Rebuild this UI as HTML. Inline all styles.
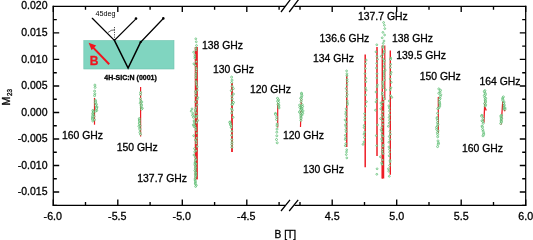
<!DOCTYPE html><html><head><meta charset="utf-8"><title>M23 vs B</title>
<style>html,body{margin:0;padding:0;background:#fff}body{width:533px;height:240px;overflow:hidden}svg{display:block}text{font-family:"Liberation Sans",sans-serif;fill:#000;stroke:#000;stroke-width:0.3px}</style></head><body>
<svg width="533" height="240" viewBox="0 0 533 240">
<rect width="533" height="240" fill="#fff"/>
<g id="inset">
<rect x="83.8" y="40.5" width="90.2" height="28.5" fill="#80d5c0" stroke="#6fc4b0" stroke-width="0.6"/>
<g stroke="#000" fill="none" stroke-linecap="round">
<path d="M92.3 18.3L114.4 40.4L135.2 19.6" stroke-width="1.25"/>
<path d="M114.4 40.4L128.1 68L140.6 42.2" stroke-width="1.5" stroke-linejoin="miter"/>
<path d="M140.6 42.2L162.6 19.2" stroke-width="1.25"/>
<path d="M114.5 27V40" stroke-width="0.7" stroke-dasharray="1.2 1.2" stroke-linecap="butt"/>
<path d="M108.3 32.2Q111 29.6 114.5 29.8" stroke-width="0.6"/>
</g>
<circle cx="136" cy="18.6" r="1.3" fill="#000"/><circle cx="163.3" cy="18.4" r="1.3" fill="#000"/><circle cx="140.6" cy="42.2" r="1.1" fill="#000"/>
<path d="M109.2 64.2L92 46.4" stroke="#f0141e" stroke-width="2" fill="none"/>
<path d="M88.6 42.8L96.2 45.6L91.6 50.2Z" fill="#f0141e"/>
<text x="89.8" y="64.6" font-size="12" font-weight="bold" style="fill:#f0141e;stroke:#f0141e">B</text>
<text x="95.6" y="16.4" font-size="7.2" style="stroke:none">45deg</text>
<text x="104.3" y="79.9" font-size="7" font-weight="bold">4H-SiC:N (0001)</text>
</g>
<g id="fit" stroke="#ee1c25" fill="none" stroke-linecap="butt" stroke-linejoin="round">
<path d="M94.5 98V124.7" stroke-width="1.2"/>
<path d="M140.6 87V136.6" stroke-width="1.2"/>
<path d="M196.3 47V179.4" stroke-width="3.1"/>
<path d="M232 83V152" stroke-width="1.8"/>
<path d="M277.7 103.3V127.6" stroke-width="1.2"/>
<path d="M301.4 98L300.5 127" stroke-width="1.2"/>
<path d="M346.75 75V147" stroke-width="1.4"/>
<path d="M365.2 54.4V167.2" stroke-width="1.5"/>
<path d="M377.0 46.9V156" stroke-width="1.5"/>
<path d="M382.3 45.6V178.5" stroke-width="1.4"/>
<path d="M384.8 45.6V100" stroke-width="1.2"/>
<path d="M383.0 100V178.5" stroke-width="2.5"/>
<path d="M390.3 50.6V174.7" stroke-width="1.4"/>
<path d="M438.3 97V133" stroke-width="1.2"/>
<path d="M484.8 101.5L484.6 106.7L483.9 122.6M484.6 106.5L486.3 110.5" stroke-width="1.3"/>
<path d="M502.8 101.5L502.5 105L501.2 124.5M502.5 104.8L505 111.3" stroke-width="1.3"/>
</g>
<g id="pts" fill="#fff" fill-opacity="0.8" stroke="#38ae52" stroke-width="0.6">
<circle cx="94.9" cy="85.1" r="1.00"/>
<circle cx="95.1" cy="87.4" r="1.00"/>
<circle cx="94.6" cy="91.1" r="1.00"/>
<circle cx="94.8" cy="93.8" r="1.00"/>
<circle cx="94.6" cy="95.7" r="1.00"/>
<circle cx="95.4" cy="100.3" r="1.00"/>
<circle cx="95.6" cy="101.7" r="1.00"/>
<circle cx="95.3" cy="102.8" r="1.00"/>
<circle cx="96.4" cy="104.3" r="1.00"/>
<circle cx="95.6" cy="105.3" r="1.00"/>
<circle cx="97.0" cy="107.0" r="1.00"/>
<circle cx="96.4" cy="107.6" r="1.00"/>
<circle cx="96.5" cy="108.7" r="1.00"/>
<circle cx="96.7" cy="110.5" r="1.00"/>
<circle cx="95.7" cy="111.1" r="1.00"/>
<circle cx="92.9" cy="110.4" r="1.00"/>
<circle cx="93.4" cy="111.5" r="1.00"/>
<circle cx="93.3" cy="112.2" r="1.00"/>
<circle cx="92.7" cy="113.5" r="1.00"/>
<circle cx="93.3" cy="114.4" r="1.00"/>
<circle cx="92.8" cy="115.2" r="1.00"/>
<circle cx="94.0" cy="116.4" r="1.00"/>
<circle cx="92.4" cy="117.0" r="1.00"/>
<circle cx="92.6" cy="118.4" r="1.00"/>
<circle cx="92.5" cy="119.3" r="1.00"/>
<circle cx="94.4" cy="119.8" r="1.00"/>
<circle cx="92.8" cy="121.0" r="1.00"/>
<circle cx="140.6" cy="92.5" r="1.00"/>
<circle cx="140.5" cy="94.5" r="1.00"/>
<circle cx="140.4" cy="98.7" r="1.00"/>
<circle cx="140.7" cy="101.0" r="1.00"/>
<circle cx="141.8" cy="102.0" r="1.00"/>
<circle cx="140.2" cy="103.2" r="1.00"/>
<circle cx="141.5" cy="104.8" r="1.00"/>
<circle cx="141.2" cy="105.6" r="1.00"/>
<circle cx="141.2" cy="107.1" r="1.00"/>
<circle cx="142.3" cy="108.3" r="1.00"/>
<circle cx="141.4" cy="109.2" r="1.00"/>
<circle cx="139.3" cy="118.6" r="1.00"/>
<circle cx="139.3" cy="120.0" r="1.00"/>
<circle cx="139.5" cy="121.0" r="1.00"/>
<circle cx="139.5" cy="122.9" r="1.00"/>
<circle cx="139.4" cy="123.7" r="1.00"/>
<circle cx="140.0" cy="125.7" r="1.00"/>
<circle cx="138.9" cy="126.3" r="1.00"/>
<circle cx="139.8" cy="128.4" r="1.00"/>
<circle cx="139.9" cy="129.6" r="1.00"/>
<circle cx="139.9" cy="132.4" r="1.00"/>
<circle cx="140.5" cy="134.3" r="1.00"/>
<circle cx="195.8" cy="38.8" r="0.90"/>
<circle cx="196.3" cy="41.8" r="0.90"/>
<circle cx="196.5" cy="45.5" r="0.90"/>
<circle cx="195.9" cy="48.2" r="0.90"/>
<circle cx="196.0" cy="50.1" r="0.90"/>
<circle cx="193.6" cy="52.2" r="0.90"/>
<circle cx="194.9" cy="54.9" r="0.90"/>
<circle cx="194.8" cy="56.8" r="0.90"/>
<circle cx="194.9" cy="58.3" r="0.90"/>
<circle cx="196.3" cy="61.7" r="0.90"/>
<circle cx="193.9" cy="63.8" r="0.90"/>
<circle cx="195.5" cy="65.3" r="0.90"/>
<circle cx="196.2" cy="67.8" r="0.90"/>
<circle cx="196.5" cy="69.2" r="0.90"/>
<circle cx="196.2" cy="71.5" r="0.90"/>
<circle cx="195.9" cy="73.9" r="0.90"/>
<circle cx="195.9" cy="75.8" r="0.90"/>
<circle cx="195.8" cy="77.9" r="0.90"/>
<circle cx="196.1" cy="81.3" r="0.90"/>
<circle cx="196.4" cy="83.0" r="0.90"/>
<circle cx="196.5" cy="84.8" r="0.90"/>
<circle cx="197.3" cy="87.0" r="0.90"/>
<circle cx="197.3" cy="90.1" r="0.90"/>
<circle cx="195.5" cy="91.5" r="0.90"/>
<circle cx="195.9" cy="93.1" r="0.90"/>
<circle cx="195.7" cy="95.7" r="0.90"/>
<circle cx="197.8" cy="97.6" r="0.90"/>
<circle cx="197.1" cy="99.5" r="0.90"/>
<circle cx="195.5" cy="101.9" r="0.90"/>
<circle cx="197.1" cy="104.7" r="0.90"/>
<circle cx="196.1" cy="107.5" r="0.90"/>
<circle cx="195.6" cy="109.5" r="0.90"/>
<circle cx="195.2" cy="110.9" r="0.90"/>
<circle cx="196.1" cy="112.8" r="0.90"/>
<circle cx="194.7" cy="115.9" r="0.90"/>
<circle cx="196.2" cy="117.4" r="0.90"/>
<circle cx="197.7" cy="120.5" r="0.90"/>
<circle cx="196.5" cy="122.5" r="0.90"/>
<circle cx="194.2" cy="124.5" r="0.90"/>
<circle cx="195.0" cy="125.9" r="0.90"/>
<circle cx="195.8" cy="127.8" r="0.90"/>
<circle cx="195.8" cy="129.9" r="0.90"/>
<circle cx="196.7" cy="133.1" r="0.90"/>
<circle cx="193.7" cy="135.7" r="0.90"/>
<circle cx="196.7" cy="137.9" r="0.90"/>
<circle cx="195.4" cy="140.0" r="0.90"/>
<circle cx="196.4" cy="141.1" r="0.90"/>
<circle cx="196.3" cy="143.2" r="0.90"/>
<circle cx="197.2" cy="146.5" r="0.90"/>
<circle cx="194.5" cy="148.6" r="0.90"/>
<circle cx="196.1" cy="150.7" r="0.90"/>
<circle cx="194.7" cy="151.8" r="0.90"/>
<circle cx="194.0" cy="155.0" r="0.90"/>
<circle cx="195.3" cy="157.1" r="0.90"/>
<circle cx="196.0" cy="159.4" r="0.90"/>
<circle cx="192.0" cy="108.9" r="0.90"/>
<circle cx="191.2" cy="111.2" r="0.90"/>
<circle cx="192.9" cy="113.4" r="0.90"/>
<circle cx="192.5" cy="115.3" r="0.90"/>
<circle cx="193.4" cy="117.4" r="0.90"/>
<circle cx="194.1" cy="120.7" r="0.90"/>
<circle cx="194.1" cy="121.9" r="0.90"/>
<circle cx="193.2" cy="124.9" r="0.90"/>
<circle cx="194.1" cy="126.7" r="0.90"/>
<circle cx="195.4" cy="160.2" r="0.90"/>
<circle cx="195.1" cy="162.1" r="0.90"/>
<circle cx="195.0" cy="163.2" r="0.90"/>
<circle cx="196.2" cy="163.9" r="0.90"/>
<circle cx="194.8" cy="164.8" r="0.90"/>
<circle cx="195.4" cy="166.0" r="0.90"/>
<circle cx="195.9" cy="167.4" r="0.90"/>
<circle cx="195.2" cy="168.2" r="0.90"/>
<circle cx="195.6" cy="169.9" r="0.90"/>
<circle cx="194.8" cy="170.6" r="0.90"/>
<circle cx="195.7" cy="172.1" r="0.90"/>
<circle cx="196.1" cy="172.9" r="0.90"/>
<circle cx="195.2" cy="174.1" r="0.90"/>
<circle cx="196.1" cy="175.2" r="0.90"/>
<circle cx="195.6" cy="176.1" r="0.90"/>
<circle cx="195.6" cy="177.0" r="0.90"/>
<circle cx="195.2" cy="178.5" r="0.90"/>
<circle cx="195.0" cy="179.9" r="0.90"/>
<circle cx="195.3" cy="180.8" r="0.90"/>
<circle cx="195.6" cy="182.0" r="0.90"/>
<circle cx="195.2" cy="183.1" r="0.90"/>
<circle cx="195.3" cy="184.0" r="0.90"/>
<circle cx="196.4" cy="185.3" r="0.90"/>
<circle cx="195.6" cy="186.5" r="0.90"/>
<circle cx="197.0" cy="115.9" r="0.90"/>
<circle cx="231.6" cy="77.1" r="1.00"/>
<circle cx="232.0" cy="80.1" r="1.00"/>
<circle cx="231.7" cy="82.5" r="1.00"/>
<circle cx="232.1" cy="86.3" r="1.00"/>
<circle cx="233.3" cy="88.6" r="1.00"/>
<circle cx="231.3" cy="90.6" r="1.00"/>
<circle cx="233.4" cy="94.0" r="1.00"/>
<circle cx="231.9" cy="96.0" r="1.00"/>
<circle cx="232.2" cy="98.8" r="1.00"/>
<circle cx="232.5" cy="101.9" r="1.00"/>
<circle cx="231.9" cy="104.4" r="1.00"/>
<circle cx="231.6" cy="108.9" r="1.00"/>
<circle cx="232.3" cy="110.2" r="1.00"/>
<circle cx="231.7" cy="113.0" r="1.00"/>
<circle cx="233.0" cy="117.3" r="1.00"/>
<circle cx="233.5" cy="102.5" r="1.00"/>
<circle cx="232.6" cy="104.3" r="1.00"/>
<circle cx="230.1" cy="121.9" r="1.00"/>
<circle cx="229.8" cy="122.5" r="1.00"/>
<circle cx="230.6" cy="123.8" r="1.00"/>
<circle cx="230.5" cy="124.8" r="1.00"/>
<circle cx="231.3" cy="125.9" r="1.00"/>
<circle cx="231.2" cy="127.5" r="1.00"/>
<circle cx="231.8" cy="131.3" r="1.00"/>
<circle cx="231.6" cy="135.3" r="1.00"/>
<circle cx="231.8" cy="139.5" r="1.00"/>
<circle cx="232.0" cy="142.3" r="1.00"/>
<circle cx="231.8" cy="144.5" r="1.00"/>
<circle cx="231.9" cy="147.3" r="1.00"/>
<circle cx="277.5" cy="98.3" r="1.00"/>
<circle cx="278.6" cy="100.0" r="1.00"/>
<circle cx="277.6" cy="101.2" r="1.00"/>
<circle cx="278.6" cy="102.5" r="1.00"/>
<circle cx="278.0" cy="104.4" r="1.00"/>
<circle cx="278.9" cy="105.2" r="1.00"/>
<circle cx="278.7" cy="106.9" r="1.00"/>
<circle cx="279.0" cy="107.9" r="1.00"/>
<circle cx="275.5" cy="113.4" r="1.00"/>
<circle cx="275.5" cy="114.4" r="1.00"/>
<circle cx="276.7" cy="117.1" r="1.00"/>
<circle cx="276.6" cy="119.5" r="1.00"/>
<circle cx="277.1" cy="124.0" r="1.00"/>
<circle cx="277.0" cy="125.8" r="1.00"/>
<circle cx="277.0" cy="129.1" r="1.00"/>
<circle cx="276.8" cy="132.2" r="1.00"/>
<circle cx="276.8" cy="135.8" r="1.00"/>
<circle cx="276.5" cy="139.5" r="1.00"/>
<circle cx="277.2" cy="142.8" r="1.00"/>
<circle cx="301.5" cy="93.2" r="1.00"/>
<circle cx="301.6" cy="94.1" r="1.00"/>
<circle cx="301.9" cy="95.7" r="1.00"/>
<circle cx="301.4" cy="97.3" r="1.00"/>
<circle cx="300.7" cy="98.3" r="1.00"/>
<circle cx="301.5" cy="99.6" r="1.00"/>
<circle cx="301.1" cy="101.6" r="1.00"/>
<circle cx="302.2" cy="104.6" r="1.00"/>
<circle cx="299.6" cy="105.1" r="1.00"/>
<circle cx="301.5" cy="106.1" r="1.00"/>
<circle cx="302.6" cy="106.5" r="1.00"/>
<circle cx="299.8" cy="107.4" r="1.00"/>
<circle cx="301.3" cy="108.1" r="1.00"/>
<circle cx="302.0" cy="108.7" r="1.00"/>
<circle cx="301.5" cy="109.4" r="1.00"/>
<circle cx="300.6" cy="110.2" r="1.00"/>
<circle cx="303.0" cy="110.9" r="1.00"/>
<circle cx="299.4" cy="112.0" r="1.00"/>
<circle cx="301.7" cy="112.5" r="1.00"/>
<circle cx="302.7" cy="113.4" r="1.00"/>
<circle cx="300.6" cy="113.9" r="1.00"/>
<circle cx="301.9" cy="115.1" r="1.00"/>
<circle cx="300.7" cy="115.9" r="1.00"/>
<circle cx="301.0" cy="117.5" r="1.00"/>
<circle cx="301.0" cy="118.5" r="1.00"/>
<circle cx="300.9" cy="120.4" r="1.00"/>
<circle cx="346.6" cy="70.9" r="0.90"/>
<circle cx="346.9" cy="73.8" r="0.90"/>
<circle cx="346.9" cy="75.7" r="0.90"/>
<circle cx="347.1" cy="79.4" r="0.90"/>
<circle cx="347.3" cy="81.6" r="0.90"/>
<circle cx="347.0" cy="84.9" r="0.90"/>
<circle cx="346.2" cy="88.5" r="0.90"/>
<circle cx="346.8" cy="91.5" r="0.90"/>
<circle cx="347.2" cy="94.5" r="0.90"/>
<circle cx="346.6" cy="96.6" r="0.90"/>
<circle cx="347.3" cy="100.9" r="0.90"/>
<circle cx="347.5" cy="103.1" r="0.90"/>
<circle cx="347.4" cy="104.7" r="0.90"/>
<circle cx="346.1" cy="108.8" r="0.90"/>
<circle cx="345.9" cy="111.8" r="0.90"/>
<circle cx="345.6" cy="114.0" r="0.90"/>
<circle cx="346.2" cy="116.6" r="0.90"/>
<circle cx="345.1" cy="119.9" r="0.90"/>
<circle cx="346.3" cy="122.0" r="0.90"/>
<circle cx="345.4" cy="124.9" r="0.90"/>
<circle cx="346.0" cy="126.7" r="0.90"/>
<circle cx="345.8" cy="129.6" r="0.90"/>
<circle cx="346.1" cy="131.7" r="0.90"/>
<circle cx="345.3" cy="135.3" r="0.90"/>
<circle cx="345.6" cy="138.0" r="0.90"/>
<circle cx="345.3" cy="139.5" r="0.90"/>
<circle cx="345.8" cy="143.6" r="0.90"/>
<circle cx="345.3" cy="145.7" r="0.90"/>
<circle cx="346.7" cy="149.8" r="0.90"/>
<circle cx="346.5" cy="152.0" r="0.90"/>
<circle cx="346.3" cy="154.6" r="0.90"/>
<circle cx="346.8" cy="157.9" r="0.90"/>
<circle cx="366.2" cy="60.1" r="0.90"/>
<circle cx="365.6" cy="63.6" r="0.90"/>
<circle cx="365.4" cy="68.5" r="0.90"/>
<circle cx="365.0" cy="73.6" r="0.90"/>
<circle cx="365.9" cy="78.3" r="0.90"/>
<circle cx="365.8" cy="81.7" r="0.90"/>
<circle cx="365.5" cy="87.9" r="0.90"/>
<circle cx="366.2" cy="90.2" r="0.90"/>
<circle cx="365.6" cy="95.0" r="0.90"/>
<circle cx="366.4" cy="101.7" r="0.90"/>
<circle cx="365.6" cy="106.3" r="0.90"/>
<circle cx="364.6" cy="113.7" r="0.90"/>
<circle cx="364.8" cy="117.2" r="0.90"/>
<circle cx="364.7" cy="120.0" r="0.90"/>
<circle cx="364.2" cy="125.4" r="0.90"/>
<circle cx="364.1" cy="127.6" r="0.90"/>
<circle cx="364.6" cy="132.0" r="0.90"/>
<circle cx="364.0" cy="134.2" r="0.90"/>
<circle cx="364.4" cy="137.5" r="0.90"/>
<circle cx="364.0" cy="141.9" r="0.90"/>
<circle cx="363.0" cy="144.4" r="0.90"/>
<circle cx="376.8" cy="44.8" r="0.90"/>
<circle cx="376.0" cy="51.8" r="0.90"/>
<circle cx="376.9" cy="56.2" r="0.90"/>
<circle cx="377.5" cy="59.3" r="0.90"/>
<circle cx="376.7" cy="63.4" r="0.90"/>
<circle cx="376.5" cy="68.0" r="0.90"/>
<circle cx="377.0" cy="73.7" r="0.90"/>
<circle cx="376.8" cy="77.9" r="0.90"/>
<circle cx="377.4" cy="84.9" r="0.90"/>
<circle cx="377.0" cy="86.9" r="0.90"/>
<circle cx="376.0" cy="92.0" r="0.90"/>
<circle cx="376.8" cy="99.3" r="0.90"/>
<circle cx="376.0" cy="101.9" r="0.90"/>
<circle cx="375.5" cy="110.2" r="0.90"/>
<circle cx="377.5" cy="124.9" r="0.90"/>
<circle cx="376.3" cy="135.6" r="0.90"/>
<circle cx="376.7" cy="145.6" r="0.90"/>
<circle cx="377.1" cy="168.8" r="0.90"/>
<circle cx="376.8" cy="174.3" r="0.90"/>
<circle cx="383.6" cy="22.5" r="0.90"/>
<circle cx="384.4" cy="25.3" r="0.90"/>
<circle cx="384.8" cy="28.6" r="0.90"/>
<circle cx="382.9" cy="32.4" r="0.90"/>
<circle cx="384.6" cy="35.0" r="0.90"/>
<circle cx="382.2" cy="37.8" r="0.90"/>
<circle cx="384.0" cy="41.0" r="0.90"/>
<circle cx="383.2" cy="43.4" r="0.90"/>
<circle cx="383.1" cy="46.4" r="0.90"/>
<circle cx="383.0" cy="47.5" r="0.90"/>
<circle cx="384.1" cy="50.9" r="0.90"/>
<circle cx="384.1" cy="52.2" r="0.90"/>
<circle cx="383.3" cy="54.2" r="0.90"/>
<circle cx="381.3" cy="56.3" r="0.90"/>
<circle cx="383.2" cy="59.0" r="0.90"/>
<circle cx="384.5" cy="60.7" r="0.90"/>
<circle cx="383.8" cy="62.5" r="0.90"/>
<circle cx="384.0" cy="65.7" r="0.90"/>
<circle cx="383.8" cy="67.2" r="0.90"/>
<circle cx="385.2" cy="70.1" r="0.90"/>
<circle cx="383.8" cy="71.4" r="0.90"/>
<circle cx="383.9" cy="73.0" r="0.90"/>
<circle cx="384.0" cy="75.4" r="0.90"/>
<circle cx="383.8" cy="77.4" r="0.90"/>
<circle cx="384.5" cy="80.0" r="0.90"/>
<circle cx="382.6" cy="81.9" r="0.90"/>
<circle cx="382.7" cy="84.0" r="0.90"/>
<circle cx="383.4" cy="86.0" r="0.90"/>
<circle cx="383.1" cy="87.7" r="0.90"/>
<circle cx="385.6" cy="89.9" r="0.90"/>
<circle cx="382.4" cy="92.6" r="0.90"/>
<circle cx="382.3" cy="94.3" r="0.90"/>
<circle cx="383.5" cy="96.5" r="0.90"/>
<circle cx="384.3" cy="98.9" r="0.90"/>
<circle cx="382.9" cy="102.1" r="0.90"/>
<circle cx="380.9" cy="103.0" r="0.90"/>
<circle cx="381.7" cy="105.5" r="0.90"/>
<circle cx="380.7" cy="108.8" r="0.90"/>
<circle cx="382.8" cy="111.6" r="0.90"/>
<circle cx="382.1" cy="114.7" r="0.90"/>
<circle cx="383.3" cy="117.1" r="0.90"/>
<circle cx="380.6" cy="118.6" r="0.90"/>
<circle cx="382.6" cy="120.9" r="0.90"/>
<circle cx="382.8" cy="124.4" r="0.90"/>
<circle cx="381.9" cy="127.4" r="0.90"/>
<circle cx="381.1" cy="129.7" r="0.90"/>
<circle cx="381.9" cy="131.7" r="0.90"/>
<circle cx="382.0" cy="134.8" r="0.90"/>
<circle cx="383.0" cy="136.3" r="0.90"/>
<circle cx="381.6" cy="139.0" r="0.90"/>
<circle cx="382.1" cy="141.2" r="0.90"/>
<circle cx="383.1" cy="144.8" r="0.90"/>
<circle cx="382.9" cy="146.3" r="0.90"/>
<circle cx="382.5" cy="149.6" r="0.90"/>
<circle cx="382.3" cy="151.8" r="0.90"/>
<circle cx="383.0" cy="153.7" r="0.90"/>
<circle cx="380.4" cy="156.8" r="0.90"/>
<circle cx="382.5" cy="159.9" r="0.90"/>
<circle cx="381.6" cy="162.9" r="0.90"/>
<circle cx="382.2" cy="164.3" r="0.90"/>
<circle cx="390.8" cy="58.1" r="0.90"/>
<circle cx="390.5" cy="59.4" r="0.90"/>
<circle cx="390.7" cy="64.4" r="0.90"/>
<circle cx="390.4" cy="67.5" r="0.90"/>
<circle cx="391.2" cy="72.3" r="0.90"/>
<circle cx="390.7" cy="74.4" r="0.90"/>
<circle cx="390.2" cy="78.9" r="0.90"/>
<circle cx="391.3" cy="82.3" r="0.90"/>
<circle cx="390.9" cy="87.7" r="0.90"/>
<circle cx="390.3" cy="89.9" r="0.90"/>
<circle cx="390.5" cy="95.6" r="0.90"/>
<circle cx="391.8" cy="97.4" r="0.90"/>
<circle cx="389.2" cy="101.0" r="0.90"/>
<circle cx="388.8" cy="105.8" r="0.90"/>
<circle cx="389.3" cy="108.0" r="0.90"/>
<circle cx="389.5" cy="111.0" r="0.90"/>
<circle cx="389.5" cy="114.8" r="0.90"/>
<circle cx="389.1" cy="117.4" r="0.90"/>
<circle cx="389.5" cy="120.2" r="0.90"/>
<circle cx="389.2" cy="123.1" r="0.90"/>
<circle cx="388.4" cy="126.3" r="0.90"/>
<circle cx="389.9" cy="131.3" r="0.90"/>
<circle cx="390.4" cy="134.2" r="0.90"/>
<circle cx="389.2" cy="136.5" r="0.90"/>
<circle cx="390.0" cy="139.4" r="0.90"/>
<circle cx="388.9" cy="142.3" r="0.90"/>
<circle cx="388.9" cy="146.9" r="0.90"/>
<circle cx="389.5" cy="149.4" r="0.90"/>
<circle cx="389.6" cy="152.2" r="0.90"/>
<circle cx="389.2" cy="155.8" r="0.90"/>
<circle cx="390.1" cy="160.4" r="0.90"/>
<circle cx="390.1" cy="161.9" r="0.90"/>
<circle cx="389.6" cy="165.4" r="0.90"/>
<circle cx="388.4" cy="168.8" r="0.90"/>
<circle cx="388.7" cy="171.2" r="0.90"/>
<circle cx="389.3" cy="176.3" r="0.90"/>
<circle cx="438.8" cy="88.9" r="1.00"/>
<circle cx="440.5" cy="90.3" r="1.00"/>
<circle cx="440.0" cy="92.2" r="1.00"/>
<circle cx="438.8" cy="93.3" r="1.00"/>
<circle cx="440.8" cy="94.8" r="1.00"/>
<circle cx="440.2" cy="96.5" r="1.00"/>
<circle cx="440.1" cy="98.5" r="1.00"/>
<circle cx="439.4" cy="99.5" r="1.00"/>
<circle cx="439.4" cy="101.7" r="1.00"/>
<circle cx="439.5" cy="103.0" r="1.00"/>
<circle cx="439.8" cy="104.1" r="1.00"/>
<circle cx="439.8" cy="106.0" r="1.00"/>
<circle cx="438.9" cy="107.7" r="1.00"/>
<circle cx="437.8" cy="108.7" r="1.00"/>
<circle cx="437.6" cy="113.3" r="1.00"/>
<circle cx="437.2" cy="117.5" r="1.00"/>
<circle cx="437.1" cy="118.6" r="1.00"/>
<circle cx="437.6" cy="120.5" r="1.00"/>
<circle cx="437.5" cy="122.8" r="1.00"/>
<circle cx="438.0" cy="124.4" r="1.00"/>
<circle cx="437.3" cy="126.3" r="1.00"/>
<circle cx="436.6" cy="127.5" r="1.00"/>
<circle cx="436.7" cy="129.3" r="1.00"/>
<circle cx="438.0" cy="130.8" r="1.00"/>
<circle cx="437.4" cy="132.7" r="1.00"/>
<circle cx="437.7" cy="134.5" r="1.00"/>
<circle cx="437.7" cy="136.8" r="1.00"/>
<circle cx="438.0" cy="140.9" r="1.00"/>
<circle cx="438.5" cy="143.1" r="1.00"/>
<circle cx="438.2" cy="144.2" r="1.00"/>
<circle cx="437.6" cy="146.6" r="1.00"/>
<circle cx="484.9" cy="90.6" r="1.00"/>
<circle cx="484.3" cy="91.7" r="1.00"/>
<circle cx="485.3" cy="93.4" r="1.00"/>
<circle cx="485.4" cy="94.8" r="1.00"/>
<circle cx="484.3" cy="95.5" r="1.00"/>
<circle cx="484.8" cy="97.5" r="1.00"/>
<circle cx="485.7" cy="98.4" r="1.00"/>
<circle cx="485.1" cy="100.0" r="1.00"/>
<circle cx="485.4" cy="100.9" r="1.00"/>
<circle cx="485.6" cy="102.1" r="1.00"/>
<circle cx="484.6" cy="103.6" r="1.00"/>
<circle cx="485.7" cy="104.9" r="1.00"/>
<circle cx="485.1" cy="106.1" r="1.00"/>
<circle cx="481.9" cy="115.3" r="1.00"/>
<circle cx="481.6" cy="116.2" r="1.00"/>
<circle cx="483.3" cy="118.4" r="1.00"/>
<circle cx="482.0" cy="120.7" r="1.00"/>
<circle cx="482.9" cy="121.4" r="1.00"/>
<circle cx="483.2" cy="123.3" r="1.00"/>
<circle cx="482.0" cy="126.1" r="1.00"/>
<circle cx="482.5" cy="127.1" r="1.00"/>
<circle cx="482.7" cy="129.5" r="1.00"/>
<circle cx="483.2" cy="131.2" r="1.00"/>
<circle cx="483.7" cy="133.1" r="1.00"/>
<circle cx="483.6" cy="134.5" r="1.00"/>
<circle cx="483.0" cy="135.8" r="1.00"/>
<circle cx="503.4" cy="96.9" r="1.00"/>
<circle cx="502.6" cy="98.2" r="1.00"/>
<circle cx="502.8" cy="99.5" r="1.00"/>
<circle cx="502.9" cy="100.6" r="1.00"/>
<circle cx="504.1" cy="102.1" r="1.00"/>
<circle cx="503.6" cy="103.5" r="1.00"/>
<circle cx="504.3" cy="105.0" r="1.00"/>
<circle cx="503.9" cy="105.9" r="1.00"/>
<circle cx="503.8" cy="107.6" r="1.00"/>
<circle cx="503.8" cy="109.0" r="1.00"/>
<circle cx="505.0" cy="108.0" r="1.00"/>
<circle cx="505.0" cy="109.2" r="1.00"/>
<circle cx="501.6" cy="115.3" r="1.00"/>
<circle cx="500.8" cy="115.9" r="1.00"/>
<circle cx="501.0" cy="117.0" r="1.00"/>
<circle cx="501.7" cy="118.3" r="1.00"/>
<circle cx="501.2" cy="118.9" r="1.00"/>
<circle cx="501.2" cy="120.3" r="1.00"/>
<circle cx="501.3" cy="121.4" r="1.00"/>
<circle cx="501.4" cy="122.1" r="1.00"/>
<circle cx="500.7" cy="123.5" r="1.00"/>
</g>
<g id="axes" stroke="#000" stroke-width="1.25" fill="none" stroke-linecap="butt">
<path d="M53.3 5.8V205.9M525.7 5.8V205.9"/>
<path d="M52.7 6.4H285.2M294.4 6.4H526.3M52.7 205.3H285.2M294.4 205.3H526.3"/>
<path d="M281 211L290 199.8M289.2 211L298.2 199.8M281 12L290.4 -0.5M289.2 12L298.6 -0.5"/>
<path d="M53.3 199.6V205.3M53.3 6.4V12.1M85.5 202.0V205.3M85.5 6.4V9.7M117.8 199.6V205.3M117.8 6.4V12.1M150.1 202.0V205.3M150.1 6.4V9.7M182.3 199.6V205.3M182.3 6.4V12.1M214.6 202.0V205.3M214.6 6.4V9.7M246.8 199.6V205.3M246.8 6.4V12.1M279.1 202.0V205.3M279.1 6.4V9.7M300.0 202.0V205.3M300.0 6.4V9.7M332.2 199.6V205.3M332.2 6.4V12.1M364.5 202.0V205.3M364.5 6.4V9.7M396.7 199.6V205.3M396.7 6.4V12.1M429.0 202.0V205.3M429.0 6.4V9.7M461.2 199.6V205.3M461.2 6.4V12.1M493.5 202.0V205.3M493.5 6.4V9.7M525.7 199.6V205.3M525.7 6.4V12.1" stroke-width="1.35"/>
<path d="M53.3 19.66H56.8M525.7 19.66H522.2M53.3 32.92H59.2M525.7 32.92H519.8M53.3 46.18H56.8M525.7 46.18H522.2M53.3 59.44H59.2M525.7 59.44H519.8M53.3 72.70H56.8M525.7 72.70H522.2M53.3 85.96H59.2M525.7 85.96H519.8M53.3 99.22H56.8M525.7 99.22H522.2M53.3 112.48H59.2M525.7 112.48H519.8M53.3 125.74H56.8M525.7 125.74H522.2M53.3 139.00H59.2M525.7 139.00H519.8M53.3 152.26H56.8M525.7 152.26H522.2M53.3 165.52H59.2M525.7 165.52H519.8M53.3 178.78H56.8M525.7 178.78H522.2M53.3 192.04H59.2M525.7 192.04H519.8M53.3 205.30H56.8M525.7 205.30H522.2" stroke-width="1.35"/>
</g>
<g id="ticklabels" font-size="10.7">
<text x="47.5" y="9.4" text-anchor="end" font-size="10.5">0.020</text>
<text x="47.5" y="36.2" text-anchor="end" font-size="10.5">0.015</text>
<text x="47.5" y="62.7" text-anchor="end" font-size="10.5">0.010</text>
<text x="47.5" y="89.3" text-anchor="end" font-size="10.5">0.005</text>
<text x="47.5" y="115.8" text-anchor="end" font-size="10.5">0.000</text>
<text x="47.5" y="142.3" text-anchor="end" font-size="10.5">-0.005</text>
<text x="47.5" y="168.8" text-anchor="end" font-size="10.5">-0.010</text>
<text x="47.5" y="195.3" text-anchor="end" font-size="10.5">-0.015</text>
<text x="52.8" y="220" text-anchor="middle">-6.0</text>
<text x="117.3" y="220" text-anchor="middle">-5.5</text>
<text x="181.8" y="220" text-anchor="middle">-5.0</text>
<text x="246.3" y="220" text-anchor="middle">-4.5</text>
<text x="332.2" y="220" text-anchor="middle">4.5</text>
<text x="396.7" y="220" text-anchor="middle">5.0</text>
<text x="461.2" y="220" text-anchor="middle">5.5</text>
<text x="525.7" y="220" text-anchor="middle">6.0</text>
</g>
<g id="peaklabels" font-size="10.4">
<text x="62.0" y="138.5">160 GHz</text>
<text x="116.7" y="150.8">150 GHz</text>
<text x="137.3" y="182.0">137.7 GHz</text>
<text x="202.0" y="49.0">138 GHz</text>
<text x="213.0" y="73.0">130 GHz</text>
<text x="250.0" y="93.0">120 GHz</text>
<text x="283.0" y="138.7">120 GHz</text>
<text x="303.0" y="173.2">130 GHz</text>
<text x="313.0" y="61.5">134 GHz</text>
<text x="319.6" y="41.5">136.6 GHz</text>
<text x="358.0" y="20.0">137.7 GHz</text>
<text x="392.0" y="41.5">138 GHz</text>
<text x="396.3" y="59.0">139.5 GHz</text>
<text x="419.8" y="80.2">150 GHz</text>
<text x="479.5" y="84.5">164 GHz</text>
<text x="462.0" y="152.0">160 GHz</text>
</g>
<text x="274.5" y="237.5" font-size="10" textLength="21.6" lengthAdjust="spacingAndGlyphs">B [T]</text>
<text transform="translate(10 105.5) rotate(-90)" font-size="10.6">M<tspan font-size="6.3" dy="2.4" dx="0.6">23</tspan></text>
</svg></body></html>
